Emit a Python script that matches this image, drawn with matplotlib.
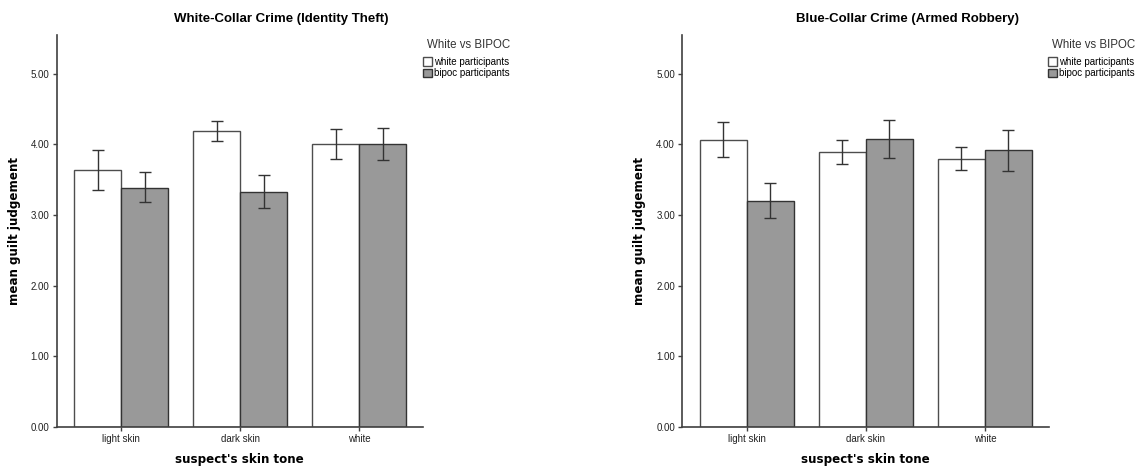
import numpy as np
import matplotlib
matplotlib.use('Agg')
import matplotlib.pyplot as plt

plt.rcParams['font.family'] = ['Liberation Sans', 'DejaVu Sans']

categories = ['light skin', 'dark skin', 'white']
groups = ['white participants', 'bipoc participants']

# white-collar crime (identity theft)
wc_white = [3.64, 4.19, 4.00]
wc_white_lo = [3.36, 4.05, 3.79]
wc_white_hi = [3.92, 4.33, 4.22]
wc_bipoc = [3.39, 3.33, 4.00]
wc_bipoc_lo = [3.18, 3.10, 3.78]
wc_bipoc_hi = [3.61, 3.57, 4.23]

# blue-collar crime (armed robbery)
bc_white = [4.06, 3.90, 3.80]
bc_white_lo = [3.82, 3.73, 3.64]
bc_white_hi = [4.32, 4.07, 3.96]
bc_bipoc = [3.20, 4.08, 3.92]
bc_bipoc_lo = [2.96, 3.81, 3.63]
bc_bipoc_hi = [3.45, 4.35, 4.21]

W, H = 1141, 466
fig = plt.figure(figsize=(W / 100, H / 100), dpi=100)

edge = '#4d4d4d'
axcol = '#404040'
AXW, AXH = 366.5, 392


def panel(x0, title, title_x, white, wlo, whi, bipoc, blo, bhi):
    ax = fig.add_axes([x0 / W, (H - 427) / H, AXW / W, AXH / H])
    x = np.arange(len(categories))
    bw = 0.395
    ax.bar(x - bw / 2, white, bw, color='white', edgecolor=edge, linewidth=1.0,
           label=groups[0], zorder=2)
    ax.bar(x + bw / 2, bipoc, bw, color='#999999', edgecolor='#333333', linewidth=1.0,
           label=groups[1], zorder=2)
    for off, v, lo, hi in [(-bw / 2, white, wlo, whi), (bw / 2, bipoc, blo, bhi)]:
        v = np.array(v)
        err = [v - np.array(lo), np.array(hi) - v]
        ax.errorbar(x + off, v, yerr=err, fmt='none', ecolor='#333333',
                    elinewidth=1.0, capsize=4.3, capthick=1.0, zorder=3)
    ax.set_xlim(-0.545, 2.535)
    ax.set_ylim(0, 5.55)
    ax.set_yticks([0, 1, 2, 3, 4, 5])
    ax.set_yticklabels(['%.2f' % t for t in [0, 1, 2, 3, 4, 5]])
    ax.set_xticks(x)
    ax.set_xticklabels(categories)
    ax.tick_params(axis='both', labelsize=7, color=axcol, labelcolor='#222222',
                   length=3, width=1.0, pad=2)
    for s in ['top', 'right']:
        ax.spines[s].set_visible(False)
    for s in ['left', 'bottom']:
        ax.spines[s].set_color(axcol)
        ax.spines[s].set_linewidth(1.2)
    ax.set_xlabel("suspect's skin tone", fontsize=8.6, fontweight='bold',
                  family='DejaVu Sans', va='center')
    ax.xaxis.set_label_coords(0.5, -33 / AXH)
    ax.set_ylabel('mean guilt judgement', fontsize=8.6, fontweight='bold',
                  family='DejaVu Sans', va='center')
    ax.yaxis.set_label_coords(-42 / AXW, 0.5)
    fig.text(title_x / W, 1 - 19 / H, title, ha='center', va='center',
             fontsize=9.5, fontweight='bold')
    fig.text((x0 + 370.5) / W, 1 - 45 / H, 'White vs BIPOC', ha='left', va='center',
             fontsize=8.3, color='#333333')
    ax.legend(loc='upper left', bbox_to_anchor=((x0 + 366) / W, 1 - 57 / H),
              bbox_transform=fig.transFigure, frameon=False, fontsize=7,
              handlelength=0.95, handleheight=0.95, handletextpad=0.2,
              labelspacing=0.12, borderpad=0, borderaxespad=0)
    return ax


panel(56.5, 'White-Collar Crime (Identity Theft)', 281,
      wc_white, wc_white_lo, wc_white_hi, wc_bipoc, wc_bipoc_lo, wc_bipoc_hi)
panel(682, 'Blue-Collar Crime (Armed Robbery)', 907,
      bc_white, bc_white_lo, bc_white_hi, bc_bipoc, bc_bipoc_lo, bc_bipoc_hi)

fig.savefig('out.png', dpi=100)
